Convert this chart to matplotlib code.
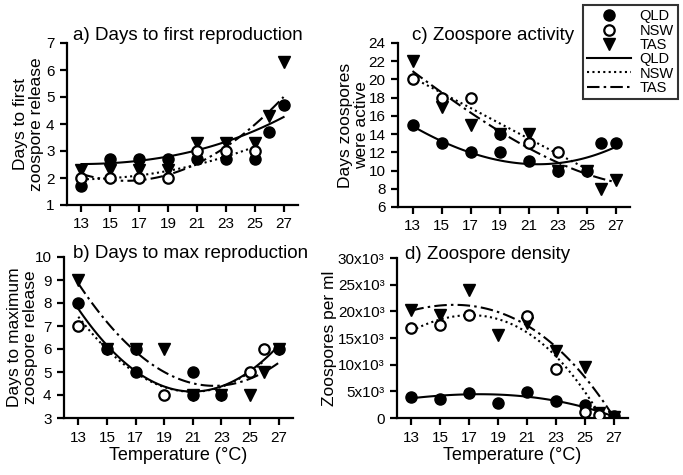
import numpy as np
import matplotlib
matplotlib.use('Agg')
import matplotlib.pyplot as plt
from matplotlib.lines import Line2D

plt.rcParams['font.family'] = ['Liberation Sans', 'DejaVu Sans']

## Scatter data
# a) days to first zoospore release
a_qld_x = [13, 15, 17, 19, 21, 23, 25, 26, 27]
a_qld_y = [1.7, 2.7, 2.7, 2.7, 2.7, 2.7, 2.7, 3.7, 4.7]
a_nsw_x = [13, 15, 17, 19, 21, 23, 25]
a_nsw_y = [2.0, 2.0, 2.0, 2.0, 3.0, 3.0, 3.0]
a_tas_x = [13, 15, 17, 19, 21, 23, 25, 26, 27]
a_tas_y = [2.3, 2.3, 2.3, 2.3, 3.3, 3.3, 3.3, 4.3, 6.3]

# b) days to maximum zoospore release
b_qld_x = [13, 15, 17, 17, 21, 21, 23, 27]
b_qld_y = [8, 6, 6, 5, 5, 4, 4, 6]
b_nsw_x = [13, 19, 25, 26]
b_nsw_y = [7, 4, 5, 6]
b_tas_x = [13, 15, 17, 19, 21, 23, 25, 26, 27]
b_tas_y = [9, 6, 6, 6, 4, 4, 4, 5, 6]

# c) days zoospores were active
c_qld_x = [13, 15, 17, 19, 19, 21, 23, 25, 26, 27]
c_qld_y = [15, 13, 12, 12, 14, 11, 10, 10, 13, 13]
c_nsw_x = [13, 15, 17, 21, 23]
c_nsw_y = [20, 18, 18, 13, 12]
c_tas_x = [13, 15, 17, 19, 21, 23, 25, 26, 27]
c_tas_y = [22, 17, 15, 14, 14, 10, 10, 8, 9]

# d) zoospore density (x10^3 per ml)
d_qld_x = [13, 15, 17, 19, 21, 23, 25, 27]
d_qld_y = [4.0, 3.5, 4.7, 2.8, 4.8, 3.1, 2.5, 0.3]
d_nsw_x = [13, 15, 17, 21, 23, 25, 26]
d_nsw_y = [16.9, 17.4, 19.4, 19.2, 9.1, 1.2, 0.6]
d_tas_x = [13, 15, 17, 19, 21, 23, 25, 26, 27]
d_tas_y = [20.3, 19.3, 24.0, 15.5, 17.8, 12.5, 9.5, 0.9, 0.2]

## Fitted trend curves, values at these temperatures
fx_odd = [13, 15, 17, 19, 21, 23, 25, 27]
fx_25 = [13, 15, 17, 19, 21, 23, 25]
fx_26 = [13, 15, 17, 19, 21, 23, 25, 26]

a_qld_fit = [2.52, 2.55, 2.62, 2.8, 3.05, 3.35, 3.72, 4.27]
a_nsw_fit = [1.95, 2.0, 2.1, 2.25, 2.5, 2.8, 3.15]
a_tas_fit = [2.15, 1.93, 1.92, 2.12, 2.53, 3.15, 3.98, 5.0]

b_qld_fit = [7.75, 6.15, 5.05, 4.37, 4.15, 4.37, 5.05, 6.15]
b_nsw_fit = [7.4, 6.0, 4.95, 4.35, 4.15, 4.35, 5.0, 5.5]
b_tas_fit = [8.85, 7.17, 5.89, 5.0, 4.51, 4.41, 4.71, 5.4]

c_qld_fit = [14.9, 13.2, 12.0, 11.1, 10.75, 10.8, 11.4, 12.6]
c_nsw_fit = [20.2, 18.5, 16.9, 15.2, 13.5, 11.85, 10.2]
c_tas_fit = [20.9, 18.6, 16.4, 14.3, 12.4, 10.9, 9.7, 8.7]

d_qld_fit = [3.7, 4.2, 4.45, 4.35, 4.05, 3.2, 2.0, 0.3]
d_nsw_fit = [16.4, 18.4, 19.2, 18.6, 16.2, 11.6, 4.6, 1.0]
d_tas_fit = [20.2, 21.0, 21.0, 19.9, 17.6, 13.2, 7.6, 0.3]

temp_ticks = [13, 15, 17, 19, 21, 23, 25, 27]

DOT = (0, (1, 1.6))
DASHDOT = (0, (6, 2, 1.2, 2))


def smooth(xs, ys, deg=3):
    # smooth line through the read curve values
    p = np.polyfit(xs, ys, deg)
    xx = np.linspace(min(xs), max(xs), 120)
    return xx, np.polyval(p, xx)


def draw_panel(ax, qld, nsw, tas, fits, ylim, yticks, title, ylabel, ylab_x,
               title_xy, yticklabels=None, xlabel=False):
    (fq_x, fq), (fn_x, fn), (ft_x, ft) = fits
    for (xs, ys), ls in zip([(fq_x, fq), (fn_x, fn), (ft_x, ft)],
                            ['-', DOT, DASHDOT]):
        xx, yy = smooth(xs, ys)
        ax.plot(xx, yy, color='black', linestyle=ls, lw=1.5, zorder=2)
    ax.plot(tas[0], tas[1], 'v', color='black', ms=8.5, ls='none', zorder=3)
    ax.plot(qld[0], qld[1], 'o', color='black', ms=8, ls='none', zorder=4)
    ax.plot(nsw[0], nsw[1], 'o', mfc='white', mec='black', mew=1.6, ms=7.5,
            ls='none', zorder=5)

    ax.set_xlim(12, 28)
    ax.set_ylim(*ylim)
    ax.set_xticks(temp_ticks)
    ax.set_yticks(yticks)
    if yticklabels is not None:
        ax.set_yticklabels(yticklabels)
    for s in ['top', 'right']:
        ax.spines[s].set_visible(False)
    for s in ['left', 'bottom']:
        ax.spines[s].set_linewidth(1.6)
    ax.tick_params(direction='out', length=5, width=1.6, labelsize=11, pad=4)
    ax.set_ylabel(ylabel, fontsize=12.5, linespacing=1.05)
    ax.yaxis.set_label_coords(ylab_x, 0.5)
    if xlabel:
        ax.set_xlabel('Temperature (°C)', fontsize=13, labelpad=2)
    ax.text(title_xy[0], title_xy[1], title, transform=ax.transAxes,
            fontsize=13.5, ha='left', va='baseline')


fig = plt.figure(figsize=(6.83, 4.75), dpi=100)
W, H = 683, 475
def rect(x0, y0, x1, y1):
    return [x0 / W, 1 - y1 / H, (x1 - x0) / W, (y1 - y0) / H]

ax_a = fig.add_axes(rect(67, 43, 298, 205))
ax_c = fig.add_axes(rect(398, 43, 630, 207))
ax_b = fig.add_axes(rect(64, 257, 293, 418))
ax_d = fig.add_axes(rect(397, 258, 628, 418))

draw_panel(ax_a, (a_qld_x, a_qld_y), (a_nsw_x, a_nsw_y), (a_tas_x, a_tas_y),
           [(fx_odd, a_qld_fit), (fx_25, a_nsw_fit), (fx_odd, a_tas_fit)],
           (1, 7), range(1, 8), 'a) Days to first reproduction',
           'Days to first\nzoospore release', -0.10, (0.026, 1.02))

draw_panel(ax_b, (b_qld_x, b_qld_y), (b_nsw_x, b_nsw_y), (b_tas_x, b_tas_y),
           [(fx_odd, b_qld_fit), (fx_26, b_nsw_fit), (fx_odd, b_tas_fit)],
           (3, 10), range(3, 11), 'b) Days to max reproduction',
           'Days to maximum\nzoospore release', -0.115, (0.04, 0.995), xlabel=True)

draw_panel(ax_c, (c_qld_x, c_qld_y), (c_nsw_x, c_nsw_y), (c_tas_x, c_tas_y),
           [(fx_odd, c_qld_fit), (fx_25, c_nsw_fit), (fx_odd, c_tas_fit)],
           (6, 24), range(6, 25, 2), 'c) Zoospore activity',
           'Days zoospores\nwere active', -0.125, (0.06, 1.02))

d_ticks = [0, 5, 10, 15, 20, 25, 30]
d_labels = ['0'] + ['%dx10³' % t for t in d_ticks[1:]]
draw_panel(ax_d, (d_qld_x, d_qld_y), (d_nsw_x, d_nsw_y), (d_tas_x, d_tas_y),
           [(fx_odd, d_qld_fit), (fx_26, d_nsw_fit), (fx_odd, d_tas_fit)],
           (0, 30), d_ticks, 'd) Zoospore density',
           'Zoospores per ml', -0.26, (0.035, 0.995),
           yticklabels=d_labels, xlabel=True)

## Legend
handles = [
    Line2D([], [], marker='o', color='black', ls='none', ms=8),
    Line2D([], [], marker='o', mfc='white', mec='black', mew=1.6, ls='none', ms=7.5),
    Line2D([], [], marker='v', color='black', ls='none', ms=8.5),
    Line2D([], [], color='black', lw=1.5, ls='-'),
    Line2D([], [], color='black', lw=1.5, ls=DOT),
    Line2D([], [], color='black', lw=1.5, ls=DASHDOT),
]
labels = ['QLD', 'NSW', 'TAS', 'QLD', 'NSW', 'TAS']
leg = fig.legend(handles, labels, loc='upper right',
                 bbox_to_anchor=(678 / W, 1 - 5 / H), fontsize=10.5,
                 frameon=True, fancybox=False, edgecolor='black',
                 handlelength=3.0, handletextpad=0.6, labelspacing=0.02,
                 borderpad=0.3, borderaxespad=0)
leg.get_frame().set_linewidth(1.5)

fig.savefig('out.png', dpi=100)
